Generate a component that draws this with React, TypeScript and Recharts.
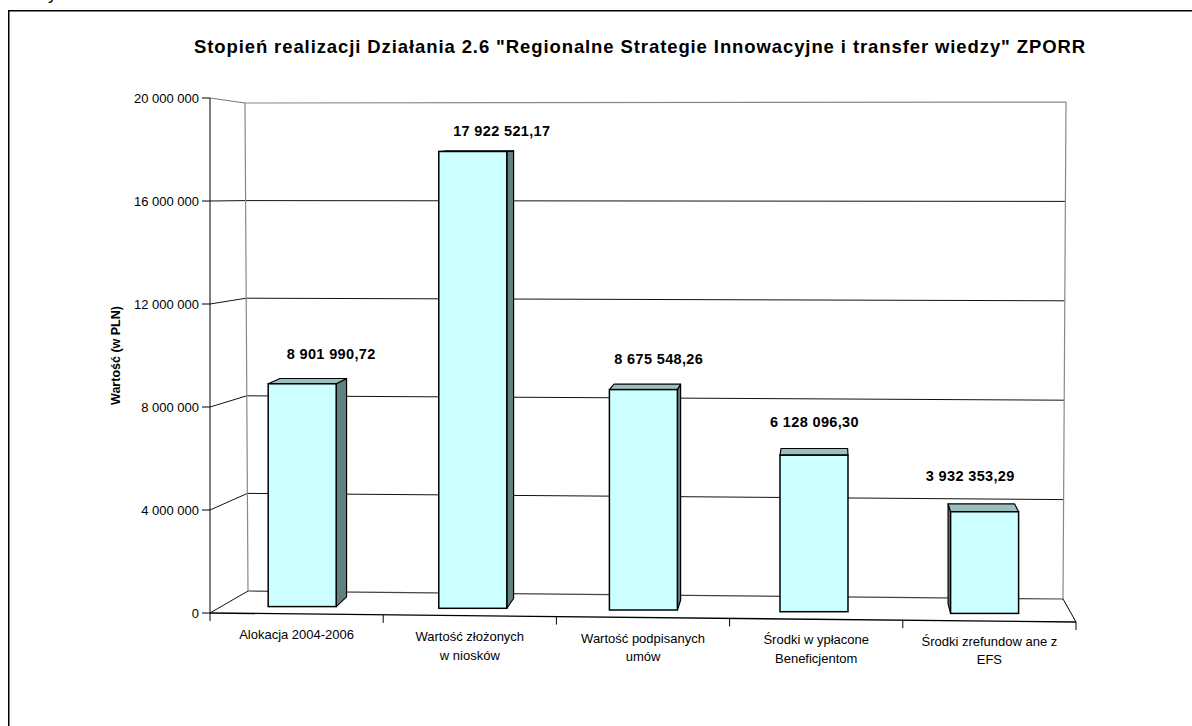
import React from 'react';
import { BarChart, Bar, XAxis, YAxis, LabelList } from 'recharts';

const categories = [
  'Alokacja 2004-2006',
  'Wartość złożonych\nw niosków',
  'Wartość podpisanych\numów',
  'Środki w ypłacone\nBeneficjentom',
  'Środki zrefundow ane z\nEFS',
];
const values = [8901990.72, 17922521.17, 8675548.26, 6128096.3, 3932353.29];
const yTicks = [0, 4000000, 8000000, 12000000, 16000000, 20000000];
const titleText = 'Stopień realizacji Działania 2.6 "Regionalne Strategie Innowacyjne i transfer wiedzy" ZPORR';
const yAxisTitle = 'Wartość (w PLN)';

const data = categories.map((c, i) => ({ name: c, value: values[i] }));

const W = 1192;
const H = 726;
const PL = 210; // plot left (front)
const PR = 1076; // plot right (front)
const PT = 98; // plot top (front)
const PB = 613; // plot bottom (front)
const PC = (PL + PR) / 2;
const BAND = (PR - PL) / categories.length;
const YMAX = yTicks[yTicks.length - 1];
const FONT = '"Liberation Sans", Arial, sans-serif';

// back wall corners
const BW = { tl: [245, 103], tr: [1066, 102], br: [1063, 599], bl: [248, 591] };

const fmt = (v: number, d: number) => {
  const [i, dec] = v.toFixed(d).split('.');
  const s = i.replace(/\B(?=(\d{3})+(?!\d))/g, ' ');
  return dec ? s + ',' + dec : s;
};

const depth = (px: number, py: number) => [(830 - px) * 0.021, -(py - 120) * 0.02];
const baseY = (px: number) => PB + ((px - PL) * 9) / (PR - PL);
const shrink = (cx: number) => PC + (cx - PC) * 0.985;

const BarShape = (props: any) => {
  const { x, y, width, height } = props;
  if (width == null || height == null) return null;
  const cx = shrink(x + width / 2);
  const L = cx - width / 2;
  const R = cx + width / 2;
  const T = y;
  const B = y + height - 3 + (cx - PC) * 0.01;
  const [dxL, dyT] = depth(L, T);
  const [dxR] = depth(R, T);
  const [, dyB] = depth(R, B);
  const stroke = '#000';
  const top = `${L},${T} ${R},${T} ${R + dxR},${T + dyT} ${L + dxL},${T + dyT}`;
  let side = '';
  if (dxR > 0.5) {
    side = `${R},${T} ${R + dxR},${T + dyT} ${R + dxR},${B + dyB} ${R},${B}`;
  } else if (dxL < -0.5) {
    side = `${L},${T} ${L + dxL},${T + dyT} ${L + dxL},${B + dyB} ${L},${B}`;
  }
  return (
    <g>
      {side && <polygon points={side} fill="#638080" stroke={stroke} strokeWidth={1.2} strokeLinejoin="round" />}
      <polygon points={top} fill="#99BFBF" stroke={stroke} strokeWidth={1.2} strokeLinejoin="round" />
      <rect x={L} y={T} width={width} height={B - T} fill="#CCFFFF" stroke={stroke} strokeWidth={1.5} />
    </g>
  );
};

const ValueLabel = (props: any) => {
  const { x, y, width, value } = props;
  if (x == null) return null;
  const cx = shrink(x + width / 2);
  const lx = cx + Math.min(29, (820 - cx) * 0.087);
  const ly = y - 21 - (y - 152) * 0.04;
  return (
    <text x={lx} y={ly} textAnchor="middle" dominantBaseline="central" fontFamily={FONT} fontWeight="bold" fontSize={14.5} letterSpacing={0.35} fill="#000">
      {fmt(value, 2)}
    </text>
  );
};

const XTick = (props: any) => {
  const { x, payload, index } = props;
  const lines = String(payload.value).split('\n');
  const y1 = 635 + (x - 297) * 0.0087;
  const bx = x - BAND / 2;
  const ex = x + BAND / 2;
  return (
    <g>
      <line x1={bx} y1={baseY(bx)} x2={bx} y2={baseY(bx) + 8} stroke="#000" strokeWidth={1} />
      {index === categories.length - 1 && (
        <line x1={ex} y1={baseY(ex)} x2={ex} y2={baseY(ex) + 8} stroke="#000" strokeWidth={1} />
      )}
      {lines.map((ln, i) => (
        <text key={i} x={x} y={y1 + i * 18.5} textAnchor="middle" dominantBaseline="central" fontFamily={FONT} fontSize={13} fill="#000">
          {ln}
        </text>
      ))}
    </g>
  );
};

const YTitle = (props: any) => {
  const vb = props.viewBox || { y: PT, height: PB - PT };
  const cy = vb.y + vb.height / 2;
  const cx = 116;
  return (
    <text x={cx} y={cy} transform={`rotate(-90 ${cx} ${cy})`} textAnchor="middle" dominantBaseline="central" fontFamily={FONT} fontWeight="bold" fontSize={12.5} fill="#000">
      {yAxisTitle}
    </text>
  );
};

const lerp = (a: number[], b: number[], t: number) => [a[0] + (b[0] - a[0]) * t, a[1] + (b[1] - a[1]) * t];

const Frame = () => {
  const fy = (v: number) => PB - (v / YMAX) * (PB - PT);
  return (
    <svg width={W} height={H} style={{ position: 'absolute', left: 0, top: 0 }}>
      <rect x={0} y={0} width={W} height={H} fill="#fff" />
      <text x={48} y={-1} fontFamily={FONT} fontSize={18} fill="#000">y</text>
      <rect x={8.75} y={10.75} width={1400} height={900} fill="none" stroke="#000" strokeWidth={1.5} />
      <text x={640} y={53.3} textAnchor="middle" fontFamily={FONT} fontWeight="bold" fontSize={18.5} letterSpacing={0.9} fill="#000">
        {titleText}
      </text>
      {/* back wall gridlines */}
      {yTicks.filter((v) => v > 0 && v < YMAX).map((v) => {
        const t = v / YMAX;
        const a = lerp(BW.bl, BW.tl, t);
        const b = lerp(BW.br, BW.tr, t);
        return <line key={'g' + v} x1={a[0]} y1={a[1]} x2={b[0]} y2={b[1]} stroke="#111" strokeWidth={1} />;
      })}
      {/* side wall lines */}
      {yTicks.map((v) => {
        const t = v / YMAX;
        const a = lerp(BW.bl, BW.tl, t);
        return (
          <line key={'s' + v} x1={PL} y1={fy(v)} x2={a[0]} y2={a[1]} stroke={v === YMAX ? '#777' : '#111'} strokeWidth={1} />
        );
      })}
      {/* back wall edges */}
      <polyline points={`${BW.bl[0]},${BW.bl[1]} ${BW.tl[0]},${BW.tl[1]} ${BW.tr[0]},${BW.tr[1]} ${BW.br[0]},${BW.br[1]}`} fill="none" stroke="#888" strokeWidth={1.2} />
      <line x1={BW.bl[0]} y1={BW.bl[1]} x2={BW.br[0]} y2={BW.br[1]} stroke="#444" strokeWidth={1.2} />
      {/* floor */}
      <line x1={PL} y1={PB} x2={PR} y2={baseY(PR)} stroke="#000" strokeWidth={1.3} />
      <line x1={BW.br[0]} y1={BW.br[1]} x2={PR} y2={baseY(PR)} stroke="#000" strokeWidth={1} />
    </svg>
  );
};

export default function App() {
  return (
    <div style={{ position: 'relative', width: W, height: H, overflow: 'hidden', background: '#fff' }}>
      <style>{`body{margin:0;}`}</style>
      <Frame />
      <div style={{ position: 'absolute', left: 0, top: 0 }}>
        <BarChart
          width={W}
          height={H}
          data={data}
          margin={{ top: PT, right: W - PR, bottom: H - PB - 60, left: 0 }}
          barSize={68}
        >
          <XAxis dataKey="name" height={60} axisLine={false} tickLine={false} interval={0} tick={<XTick />} />
          <YAxis
            width={PL}
            domain={[0, YMAX]}
            ticks={yTicks}
            tickFormatter={(v: number) => fmt(v, 0)}
            tick={{ fill: '#000', fontSize: 13, fontFamily: FONT }}
            tickSize={8}
            tickMargin={3}
            axisLine={{ stroke: '#000' }}
            tickLine={{ stroke: '#000' }}
            label={<YTitle />}
          />
          <Bar dataKey="value" shape={<BarShape />} isAnimationActive={false}>
            <LabelList dataKey="value" content={<ValueLabel />} />
          </Bar>
        </BarChart>
      </div>
    </div>
  );
}
